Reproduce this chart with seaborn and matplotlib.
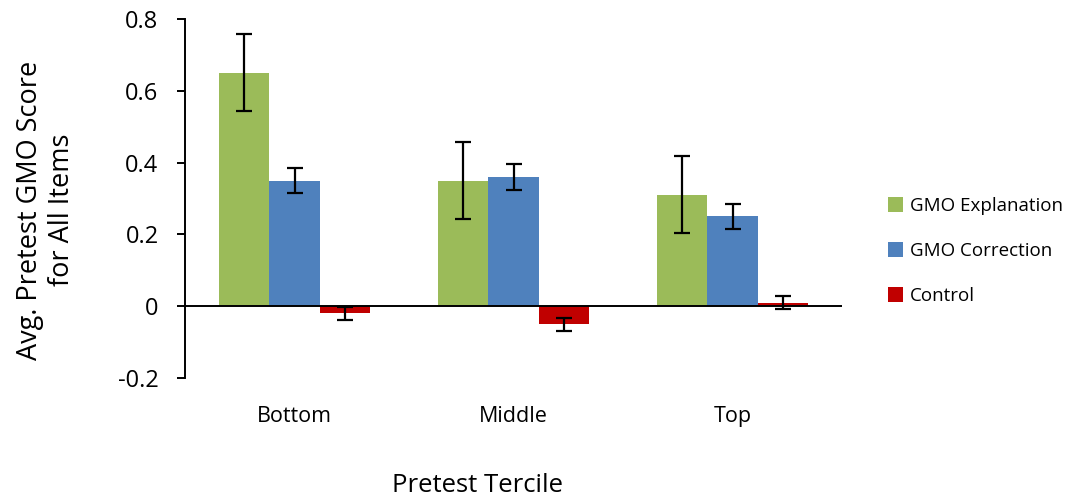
import matplotlib
matplotlib.use("Agg")
import matplotlib.pyplot as plt
import seaborn as sns
import pandas as pd
import numpy as np

terciles = ["Bottom", "Middle", "Top"]
conditions = ["GMO Explanation", "GMO Correction", "Control"]
explanation = [0.65, 0.35, 0.31]
correction = [0.35, 0.36, 0.25]
control = [-0.02, -0.05, 0.01]
explanation_err = [0.107, 0.107, 0.107]
correction_err = [0.035, 0.035, 0.035]
control_err = [0.018, 0.018, 0.018]
colors = ["#9BBB59", "#4F81BD", "#C00000"]
yticks = [-0.2, 0, 0.2, 0.4, 0.6, 0.8]
ytick_labels = ["-0.2", "0", "0.2", "0.4", "0.6", "0.8"]

sns.set_theme(style="white")
plt.rcParams["font.family"] = ["Open Sans", "DejaVu Sans"]
plt.rcParams["text.color"] = "black"

rows = []
for cond, vals, errs in zip(conditions, [explanation, correction, control],
                            [explanation_err, correction_err, control_err]):
    for t, v, e in zip(terciles, vals, errs):
        rows.append({"Tercile": t, "Condition": cond, "Score": v, "Err": e})
df = pd.DataFrame(rows)

W, H = 1076, 499
fig = plt.figure(figsize=(W / 100, H / 100), dpi=100)
ax = fig.add_axes([185 / W, 1 - 378 / H, (842 - 185) / W, (378 - 19) / H])

sns.barplot(data=df, x="Tercile", y="Score", hue="Condition", order=terciles,
            hue_order=conditions, palette=colors, width=0.685, errorbar=None,
            saturation=1, ax=ax, linewidth=0)

# error bars placed on the bar patches
for cont, cond in zip(ax.containers, conditions):
    sub = df[df["Condition"] == cond].set_index("Tercile").loc[terciles]
    xs = [p.get_x() + p.get_width() / 2 for p in cont.patches]
    ax.errorbar(xs, sub["Score"].values, yerr=sub["Err"].values, fmt="none",
                ecolor="black", elinewidth=1.6, capsize=6, capthick=1.6, zorder=5)

ax.set_xlim(-0.5, 2.5)
ax.set_ylim(-0.2, 0.8)
ax.set_yticks(yticks)
ax.set_yticklabels(ytick_labels)
ax.axhline(0, color="black", linewidth=1.4, zorder=4)
for s in ["top", "right", "bottom"]:
    ax.spines[s].set_visible(False)
ax.spines["left"].set_color("black")
ax.spines["left"].set_linewidth(1.4)
ax.tick_params(axis="y", left=True, length=6, width=1.4, color="black",
               labelsize=17, pad=13, labelcolor="black")
ax.tick_params(axis="x", bottom=False, length=0, labelsize=15.5, pad=20,
               labelcolor="black")
ax.set_xlabel("")
ax.set_ylabel("")
fig.text(478 / W, 1 - 485 / H, "Pretest Tercile", fontsize=18.5,
         ha="center", va="center", color="black")
fig.text(46 / W, 1 - 210 / H, "Avg. Pretest GMO Score\nfor All Items",
         fontsize=19.5, rotation=90, ha="center", va="center",
         multialignment="center", linespacing=1.15, color="black")

leg = ax.legend(loc="center left", bbox_to_anchor=(880 / W, 1 - 251 / H),
                bbox_transform=fig.transFigure, frameon=False, fontsize=13.5,
                handlelength=0.85, handleheight=0.85, handletextpad=0.35,
                labelspacing=1.45, borderaxespad=0)
for t in leg.get_texts():
    t.set_color("black")

fig.savefig("out.png", dpi=100, facecolor="white")
